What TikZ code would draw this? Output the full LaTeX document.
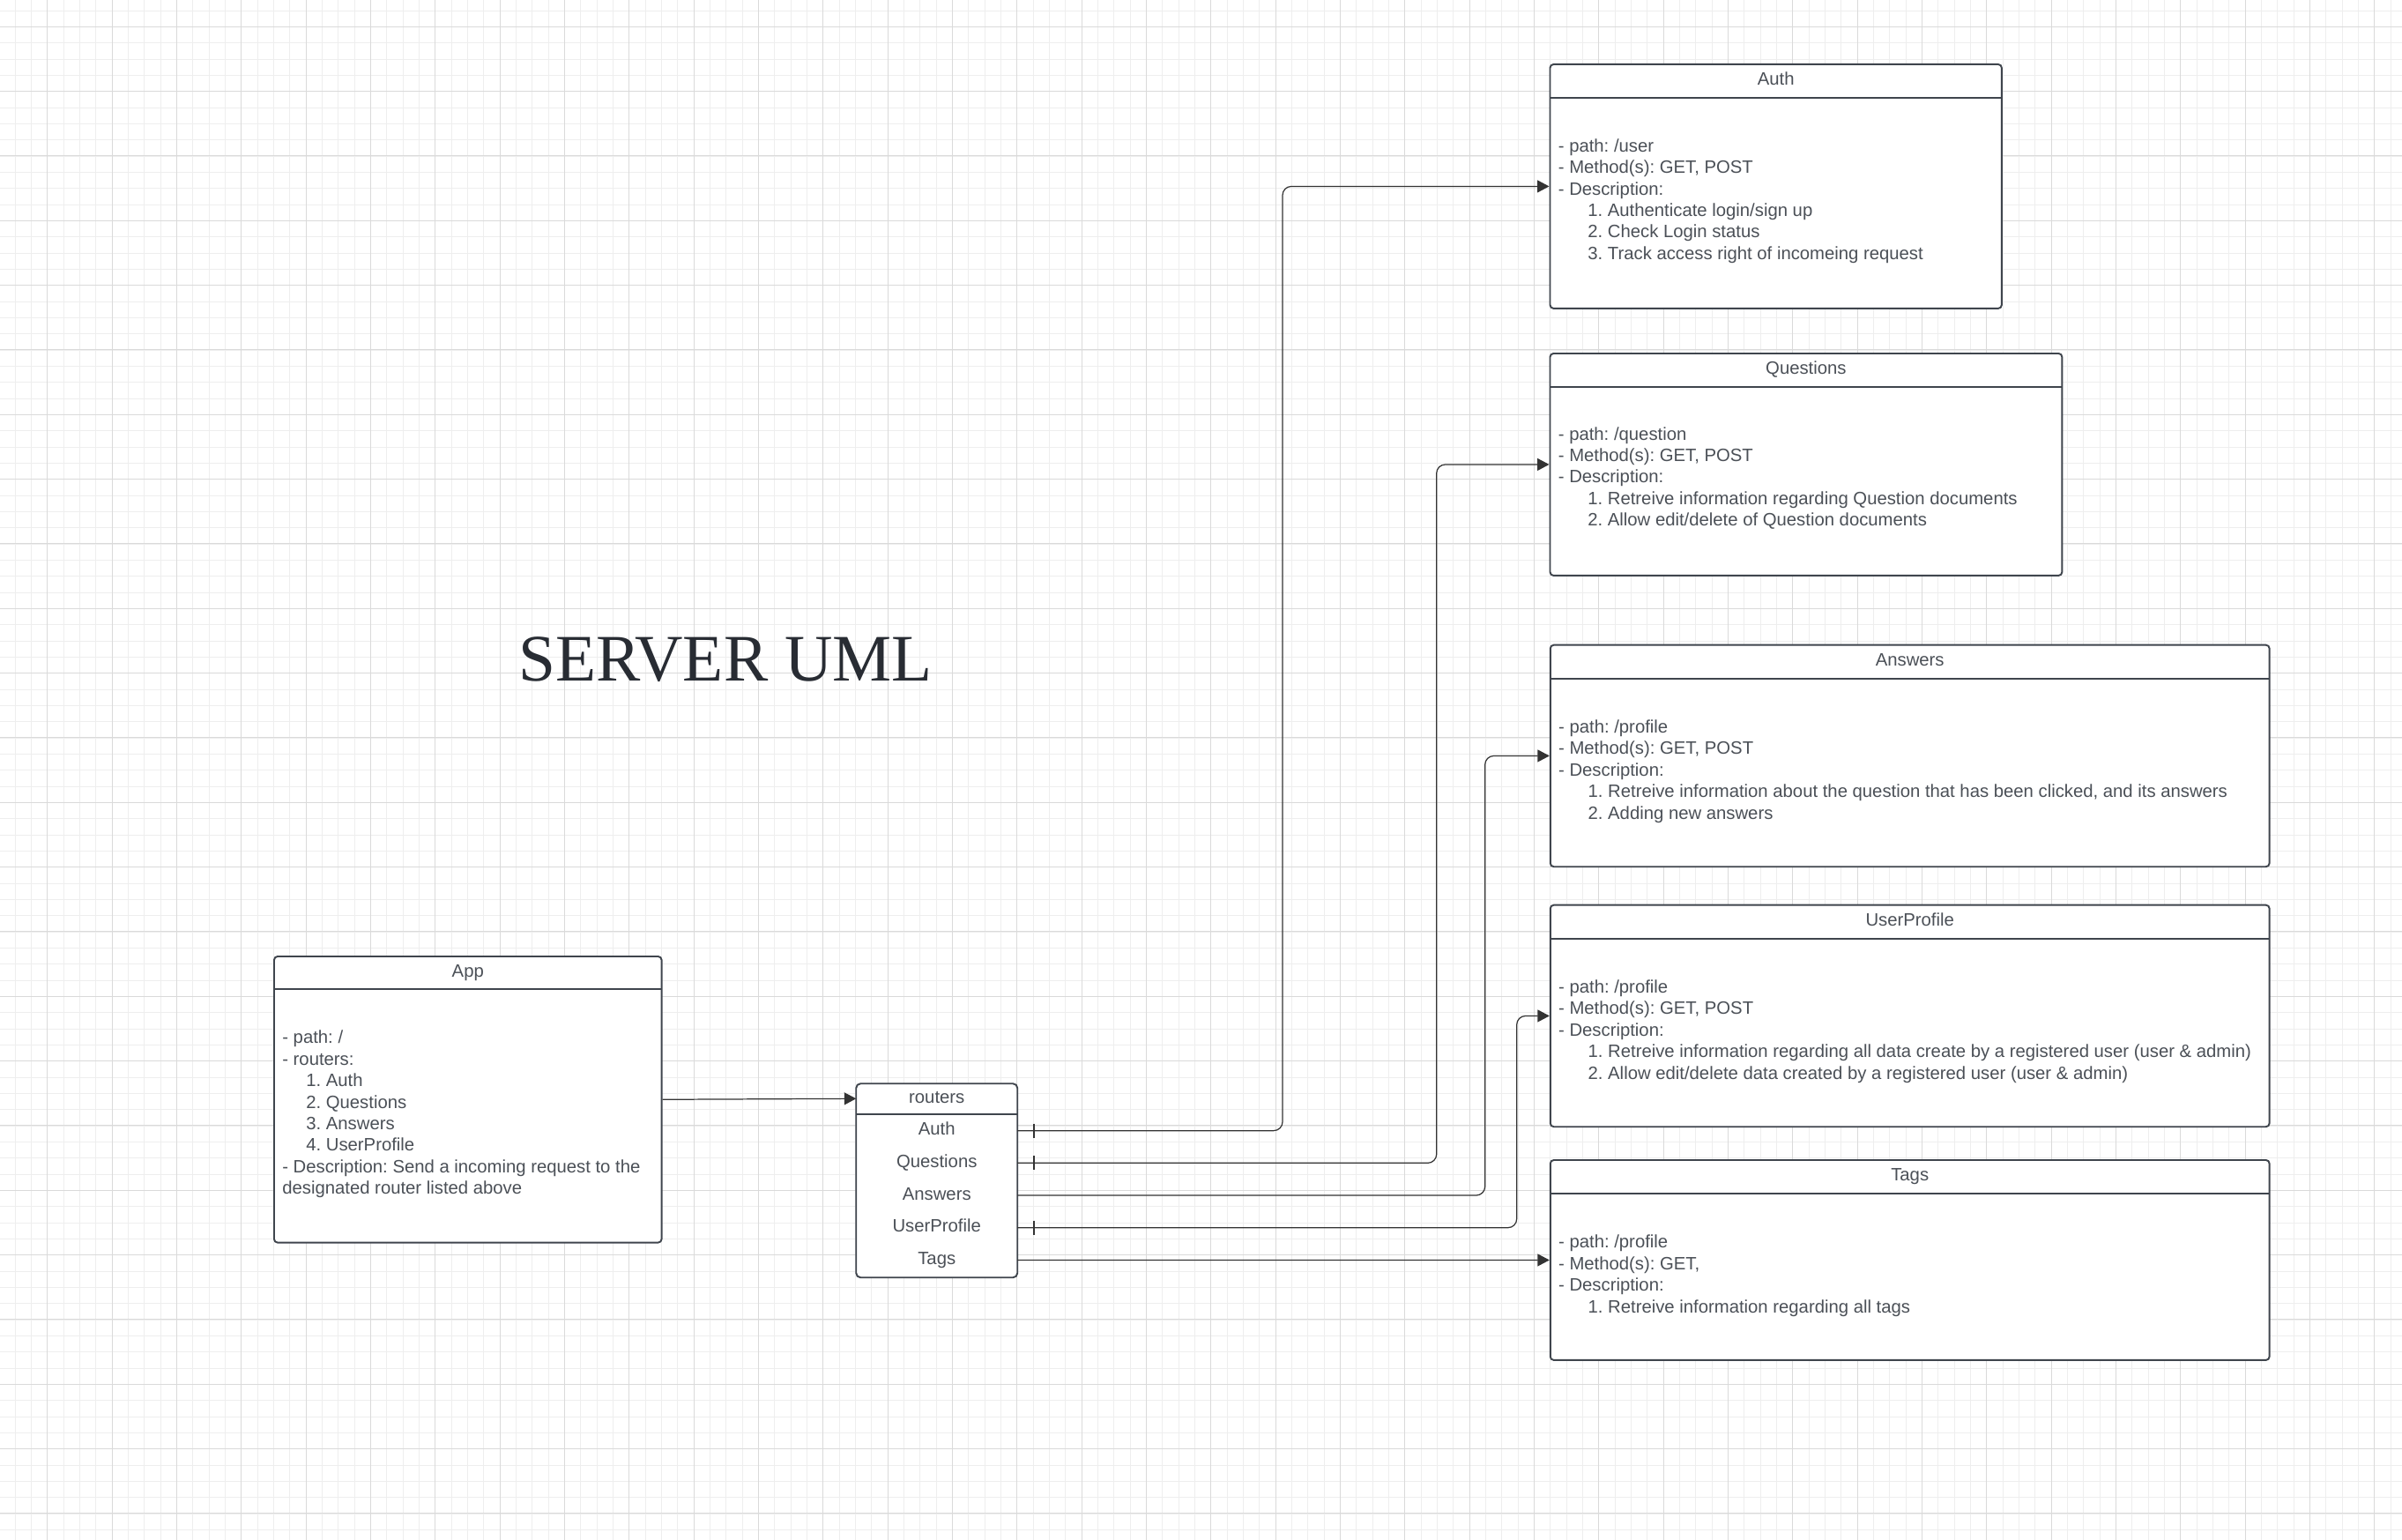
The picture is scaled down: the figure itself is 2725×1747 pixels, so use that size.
\documentclass[tikz,border=0pt]{standalone}
\usepackage{fontspec}
\setmainfont{Liberation Sans}
\newfontfamily\titlefont{Liberation Serif}
\usetikzlibrary{arrows.meta, positioning}

\definecolor{gridminor}{HTML}{EEEEEE}
\definecolor{gridmajor}{HTML}{DADADA}
\definecolor{boxline}{HTML}{3F454D}
\definecolor{boxtext}{HTML}{4B5057}
\definecolor{linkcol}{HTML}{333333}
\definecolor{titlecol}{HTML}{282C33}

\newcommand{\numpad}{\hspace*{0.67cm}}
\newcommand{\apppad}{\hspace*{0.54cm}}
\newcommand{\boxfont}{\fontsize{11.55}{13.89}\selectfont\frenchspacing}

\tikzset{
  classbox/.style={draw=boxline, line width=1.1pt, fill=white, rounded corners=0.08cm, inner sep=0pt, anchor=north west},
  headcell/.style={inner sep=0pt, outer sep=0pt, minimum height=0.784cm, anchor=north, text=boxtext,
    font=\boxfont, text height=0.29cm, text depth=0.085cm},
  rowcell/.style={headcell, minimum width=3.66cm, minimum height=0.734cm},
  bodytext/.style={inner sep=0pt, anchor=west, align=left, text=boxtext, font=\boxfont},
  sepline/.style={draw=boxline, line width=1.1pt},
  link/.style={draw=linkcol, line width=0.7pt, rounded corners=0.2cm, -{Triangle[length=0.27cm, width=0.28cm]}},
  onemark/.style={draw=linkcol, line width=0.7pt},
  gridthin/.style={draw=gridminor, line width=0.02cm},
  gridthick/.style={draw=gridmajor, line width=0.02cm}
}

\begin{document}
\begin{tikzpicture}[x=0.02cm, y=-0.02cm]
    % Canvas and grid
    \fill[white] (0,0) rectangle (2725,1747);
    \useasboundingbox (0,0) rectangle (2725,1747);
    \foreach \k in {0,...,148} {
        \pgfmathsetmacro{\gx}{round(16.667+18.3333*\k)+0.5}
        \draw[gridthin] (\gx,0) -- (\gx,1747);
    }
    \foreach \k in {0,...,95} {
        \pgfmathsetmacro{\gy}{round(11.7+18.3333*\k)+0.5}
        \draw[gridthin] (0,\gy) -- (2725,\gy);
    }
    \foreach \k in {0,...,36} {
        \pgfmathsetmacro{\gx}{round(53.33+73.3333*\k)+0.5}
        \draw[gridthick] (\gx,0) -- (\gx,1747);
    }
    \foreach \k in {0,...,23} {
        \pgfmathsetmacro{\gy}{round(29.7+73.3333*\k)+0.5}
        \draw[gridthick] (0,\gy) -- (2725,\gy);
    }

    % Title
    \node[font=\titlefont\fontsize{42.9}{50}\selectfont, text=titlecol, anchor=base, inner sep=0pt] (title) at (823,772.7) {SERVER UML};

    % App
    \node[classbox, minimum width=8.794cm, minimum height=6.494cm] (app) at (310,1084) {};
    \node[headcell, minimum width=8.794cm, minimum height=0.766cm] (appH) at (app.north) {App};
    \draw[sepline] (appH.south west) -- (appH.south east);
    \node[bodytext] (appB) at (320,1264.1) {- path: /\\- routers:\\\apppad 1. Auth\\\apppad 2. Questions\\\apppad 3. Answers\\\apppad 4. UserProfile\\- Description: Send a incoming request to the\\designated router listed above};

    % routers
    \node[classbox, minimum width=3.66cm, minimum height=4.4cm, rounded corners=0.1cm] (routers) at (970.3,1228.3) {};
    \node[headcell, minimum width=3.66cm, minimum height=0.72cm] (rHead) at (routers.north) {routers};
    \draw[sepline] (rHead.south west) -- (rHead.south east);
    \node[rowcell, below=0pt of rHead] (rAuth) {Auth};
    \node[rowcell, below=0pt of rAuth] (rQuestions) {Questions};
    \node[rowcell, below=0pt of rQuestions] (rAnswers) {Answers};
    \node[rowcell, below=0pt of rAnswers] (rUserProfile) {UserProfile};
    \node[rowcell, below=0pt of rUserProfile] (rTags) {Tags};

    % Auth
    \node[classbox, minimum width=10.25cm, minimum height=5.54cm] (auth) at (1757.5,72) {};
    \node[headcell, minimum width=10.25cm] (authH) at (auth.north) {Auth};
    \draw[sepline] (authH.south west) -- (authH.south east);
    \node[bodytext] (authB) at (1767.5,228) {- path: /user\\- Method(s): GET, POST\\- Description:\\\numpad 1. Authenticate login/sign up\\\numpad 2. Check Login status\\\numpad 3. Track access right of incomeing request};

    % Questions
    \node[classbox, minimum width=11.62cm, minimum height=5.04cm] (questions) at (1757.5,400) {};
    \node[headcell, minimum width=11.62cm] (questionsH) at (questions.north) {Questions};
    \draw[sepline] (questionsH.south west) -- (questionsH.south east);
    \node[bodytext] (questionsB) at (1767.5,542.5) {- path: /question\\- Method(s): GET, POST\\- Description:\\\numpad 1. Retreive information regarding Question documents\\\numpad 2. Allow edit/delete of Question documents};

    % Answers
    \node[classbox, minimum width=16.32cm, minimum height=5.032cm] (answers) at (1757.8,730.7) {};
    \node[headcell, minimum width=16.32cm] (answersH) at (answers.north) {Answers};
    \draw[sepline] (answersH.south west) -- (answersH.south east);
    \node[bodytext] (answersB) at (1767.8,875) {- path: /profile\\- Method(s): GET, POST\\- Description:\\\numpad 1. Retreive information about the question that has been clicked, and its answers\\\numpad 2. Adding new answers};

    % UserProfile
    \node[classbox, minimum width=16.32cm, minimum height=5.032cm] (profile) at (1757.8,1025.7) {};
    \node[headcell, minimum width=16.32cm] (profileH) at (profile.north) {UserProfile};
    \draw[sepline] (profileH.south west) -- (profileH.south east);
    \node[bodytext] (profileB) at (1767.8,1170) {- path: /profile\\- Method(s): GET, POST\\- Description:\\\numpad 1. Retreive information regarding all data create by a registered user (user \& admin)\\\numpad 2. Allow edit/delete data created by a registered user (user \& admin)};

    % Tags
    \node[classbox, minimum width=16.32cm, minimum height=4.54cm] (tags) at (1757.8,1315) {};
    \node[headcell, minimum width=16.32cm] (tagsH) at (tags.north) {Tags};
    \draw[sepline] (tagsH.south west) -- (tagsH.south east);
    \node[bodytext] (tagsB) at (1767.8,1447.3) {- path: /profile\\- Method(s): GET,\\- Description:\\\numpad 1. Retreive information regarding all tags};

    % Connectors
    \coordinate (laneAuth) at (1455,0);
    \coordinate (laneQuestions) at (1629.7,0);
    \coordinate (laneAnswers) at (1684.7,0);
    \coordinate (laneProfile) at (1720.7,0);

    \draw[link] (app.east) -- (rHead.west);
    \draw[link] (rAuth.east) -| (laneAuth |- auth.west) -- (auth.west);
    \draw[link] (rQuestions.east) -| (laneQuestions |- questions.west) -- (questions.west);
    \draw[link] (rAnswers.east) -| (laneAnswers |- answers.west) -- (answers.west);
    \draw[link] (rUserProfile.east) -| (laneProfile |- profile.west) -- (profile.west);
    \draw[link] (rTags.east) -- (tags.west);

    % one-markers
    \foreach \r in {rAuth, rQuestions, rUserProfile}
        \draw[onemark] ([xshift=0.374cm, yshift=0.16cm]\r.east) -- ([xshift=0.374cm, yshift=-0.16cm]\r.east);
\end{tikzpicture}
\end{document}
